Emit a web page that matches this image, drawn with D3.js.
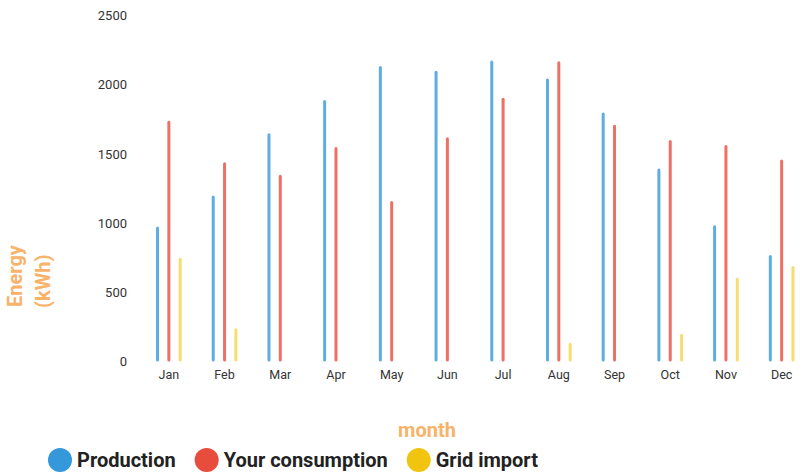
<!DOCTYPE html>
<html><head><meta charset="utf-8">
<script src="https://cdn.jsdelivr.net/npm/d3@7/dist/d3.min.js"></script>
<style>
body{margin:0;background:#fff;}
svg{display:block;font-family:Roboto, "Noto Sans", sans-serif;}
</style></head>
<body>
<svg id="chart" width="800" height="476"></svg>
<script>
const months = ["Jan","Feb","Mar","Apr","May","Jun","Jul","Aug","Sep","Oct","Nov","Dec"];
const seriesNames = ["Production","Your consumption","Grid import"];
const production = [975,1200,1650,1890,2135,2100,2175,2045,1800,1395,985,770];
const consumption = [1740,1440,1350,1550,1160,1620,1905,2170,1710,1600,1565,1460];
const gridImport = [750,240,0,0,0,0,0,135,0,200,605,690];
const yTicks = [0,500,1000,1500,2000,2500];
const colors = ["#3498db","#e74c3c","#f1c40f"];

const svg = d3.select("#chart");
const x0 = d3.scaleBand().domain(months).range([141, 809.5]).paddingInner(0);
const x1 = d3.scalePoint().domain(seriesNames).range([-17, 17]).padding(0.5);
const y = d3.scaleLinear().domain([0, 2500]).range([361.5, 15.5]);
const color = d3.scaleOrdinal().domain(seriesNames).range(colors);

const values = [production, consumption, gridImport];
const data = [];
months.forEach((m, i) => seriesNames.forEach((s, j) => data.push({m, s, v: values[j][i]})));

// y axis labels
const yAxis = svg.append("g").attr("transform", "translate(127,0)")
  .call(d3.axisLeft(y).tickValues(yTicks).tickSize(0).tickPadding(0).tickFormat(d3.format("d")));
yAxis.select(".domain").remove();
yAxis.selectAll("text").attr("font-size", 13).attr("fill", "#333").attr("font-family", "Roboto, sans-serif");

// x axis labels
const xAxis = svg.append("g").attr("transform", "translate(0,370)")
  .call(d3.axisBottom(x0).tickSize(0).tickPadding(0));
xAxis.select(".domain").remove();
xAxis.selectAll("text").attr("font-size", 12.5).attr("fill", "#333").attr("font-family", "Roboto, sans-serif");

// bars
const bw = 3;
svg.append("g").selectAll("rect").data(data.filter(d => d.v > 0)).join("rect")
  .attr("x", d => x0(d.m) + x0.bandwidth() / 2 + x1(d.s) - bw / 2)
  .attr("y", d => y(d.v))
  .attr("width", bw)
  .attr("height", d => y(0) - y(d.v))
  .attr("rx", 1.5)
  .attr("fill", d => color(d.s))
  .attr("opacity", d => d.s === "Grid import" ? 0.6 : 0.8);

// axis titles
const orange = "#f8b26a";
const yTitle = svg.append("g").attr("font-weight", "bold").attr("font-size", 20).attr("fill", orange);
yTitle.append("text").attr("transform", "translate(21.5,307) rotate(-90)").text("Energy");
yTitle.append("text").attr("transform", "translate(50,308) rotate(-90)").text("(kWh)");

svg.append("text").attr("x", 427).attr("y", 437).attr("text-anchor", "middle")
  .attr("font-weight", "bold").attr("font-size", 20).attr("fill", orange).text("month");

// legend
const legend = svg.append("g");
let lx = 48;
seriesNames.forEach((s, i) => {
  const g = legend.append("g");
  g.append("circle").attr("cx", lx + 12).attr("cy", 460).attr("r", 12).attr("fill", colors[i]);
  const t = g.append("text").attr("x", lx + 29).attr("y", 467)
    .attr("font-weight", "bold").attr("font-size", 20).attr("fill", "#222").text(s);
  const w = t.node().getComputedTextLength();
  lx = lx + 29 + w + 19;
});
</script>
</body></html>
